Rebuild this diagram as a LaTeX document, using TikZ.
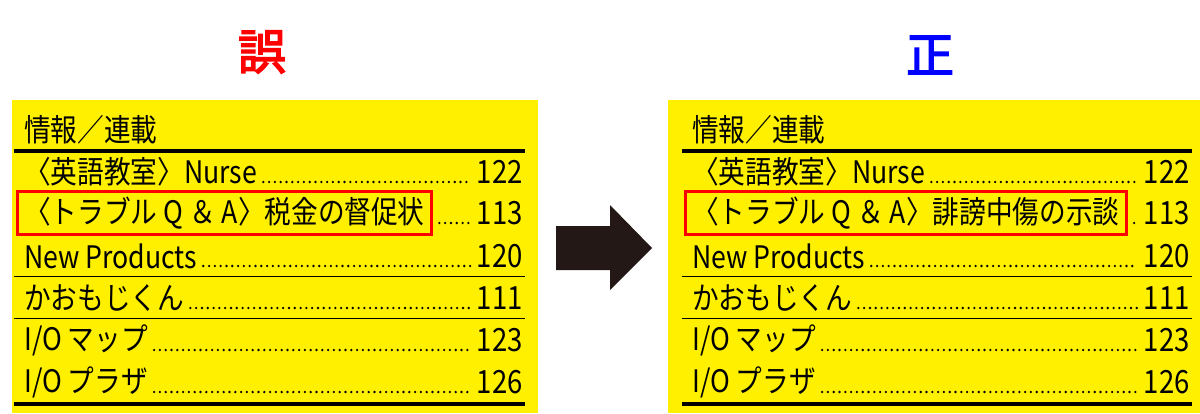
\documentclass[tikz,border=0pt]{standalone}
\usepackage{fontspec}
\usetikzlibrary{fit}
\setmainfont{Noto Sans CJK JP}[FakeStretch=0.86]
\newfontfamily\titlefont{Noto Sans CJK JP}[FakeBold=3]
\definecolor{yel}{HTML}{FFF000}
\definecolor{arr}{HTML}{231815}
\begin{document}
\begin{tikzpicture}[x=1pt,y=-1pt,
  txt/.style={anchor=west,inner sep=0pt,font=\fontsize{31}{31}\selectfont},
  num/.style={anchor=east,inner sep=0pt,font=\fontsize{32}{32}\selectfont},
  dots/.style={line width=2.6pt,line cap=round,dash pattern=on 0pt off 5.8pt,shorten <=6pt,shorten >=6pt},
  thick rule/.style={line width=4pt},
  thin rule/.style={line width=1pt},
  hl/.style={draw=red,line width=3pt}]
\useasboundingbox (0,0) rectangle (1200,413);
\fill[white] (0,0) rectangle (1200,413);
\node[text=red,font=\titlefont\fontsize{48}{48}\selectfont] (t1) at (262,52) {誤};
\node[text=blue,font=\titlefont\fontsize{48}{48}\selectfont] (t2) at (930,55) {正};
% arrow
\fill[arr] (556,226) -- (610,226) -- (610,205) -- (652,248) -- (610,290) -- (610,270) -- (556,270) -- cycle;
\newcommand{\panel}[5]{% #1 x0, #2 x1, #3 textx, #4 numx, #5 second item
  \fill[yel] (#1,100) rectangle (#2,413);
  \node[txt] (h#1) at (#3,130) {情報／連載};
  \draw[thick rule] (#3-10,151) -- (#4+2,151);
  \draw[thin rule] (#3-10,276) -- (#4+2,276);
  \draw[thin rule] (#3-10,318) -- (#4+2,318);
  \draw[thick rule] (#3-10,404) -- (#4+2,404);
  \node[txt] (a#1) at (#3,172) {〈英語教室〉Nurse};
  \node[num] (na#1) at (#4,172) {122};
  \node[txt] (b#1) at (#3,213) {#5};
  \node[num] (nb#1) at (#4,213) {113};
  \node[txt] (c#1) at (#3,256) {New Products};
  \node[num] (nc#1) at (#4,256) {120};
  \node[txt] (d#1) at (#3,298) {かおもじくん};
  \node[num] (nd#1) at (#4,298) {111};
  \node[txt] (e#1) at (#3,340) {I/O マップ};
  \node[num] (ne#1) at (#4,340) {123};
  \node[txt] (f#1) at (#3,382) {I/O プラザ};
  \node[num] (nf#1) at (#4,382) {126};
  \foreach \r in {a,c,d,e,f}{\draw[dots] ([yshift=-10pt]\r#1.east) -- ([yshift=-10pt]n\r#1.west|-\r#1.east);}
  \node[hl,fit=(b#1),inner xsep=7pt,inner ysep=5pt] (box#1) {};
  \draw[dots] ([yshift=-10pt]box#1.east|-b#1.east) -- ([yshift=-10pt]nb#1.west|-b#1.east);
}
\panel{12}{538}{24}{523}{〈トラブル Q ＆ A〉税金の督促状}
\panel{668}{1200}{692}{1190}{〈トラブル Q ＆ A〉誹謗中傷の示談}
\end{tikzpicture}
\end{document}
